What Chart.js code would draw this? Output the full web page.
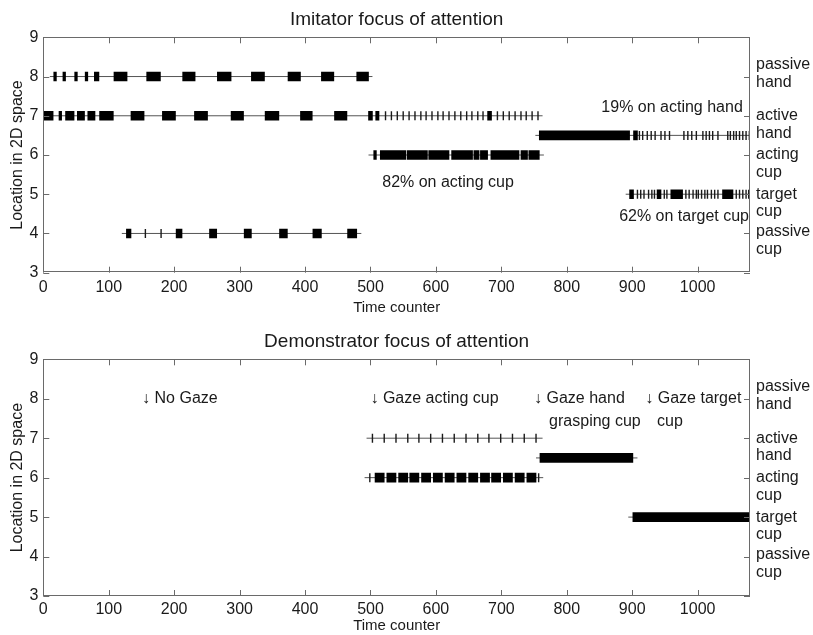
<!DOCTYPE html>
<html>
<head>
<meta charset="utf-8">
<script src="https://cdn.jsdelivr.net/npm/chart.js@4"></script>
<style>
  body { margin: 0; background: #fff; width: 813px; height: 635px; overflow: hidden; position: relative; }
  .box { position: absolute; left: 0; width: 813px; }
</style>
</head>
<body>
<div class="box" style="top:0;height:318px"><canvas id="imitator"></canvas></div>
<div class="box" style="top:322px;height:313px"><canvas id="demonstrator"></canvas></div>
<script>
// --- shared axis data ---
const timeMax = 1080;
const placeNames = [['passive', 'hand'], ['active', 'hand'], ['acting', 'cup'], ['target', 'cup'], ['passive', 'cup']];
const placeLevels = [8.3, 7.0, 6.0, 5.0, 4.04];

// --- imitator: [level, start, end] / [level, time] ---
const imLines = [[8, 10, 503], [7, 0, 763], [6, 497, 765], [6.5, 752, 1080], [5, 890, 1080], [4, 120, 486]];
const imBlocks = [
  [8, 16, 20], [8, 30, 34], [8, 48, 52], [8, 64, 68], [8, 78, 85],
  [8, 108, 128], [8, 158, 179], [8, 213, 232], [8, 266, 287], [8, 318, 338], [8, 374, 393], [8, 425, 444], [8, 479, 497],
  [7, 0, 15], [7, 24, 28], [7, 34, 47], [7, 52, 63], [7, 68, 79], [7, 86, 107], [7, 134, 154], [7, 182, 202],
  [7, 231, 251], [7, 287, 306], [7, 339, 360], [7, 393, 411], [7, 445, 464], [7, 497, 503], [7, 508, 513], [7, 679, 685],
  [6, 505, 509], [6, 515, 554], [6, 556, 587], [6, 589, 620], [6, 624, 656], [6, 658, 666], [6, 668, 679],
  [6, 684, 727], [6, 730, 740], [6, 742, 758],
  [6.5, 758, 896], [6.5, 902, 908],
  [5, 896, 902], [5, 938, 944], [5, 959, 977], [5, 1038, 1054],
  [4, 127, 134], [4, 203, 212], [4, 254, 265], [4, 307, 318], [4, 361, 373], [4, 412, 425], [4, 465, 479]
];
const imPlus7 = [523, 532, 541, 550, 559, 568, 577, 585, 594, 603, 611, 620, 629, 638, 647, 655, 664, 672, 694, 703, 712, 721, 730, 738, 747, 756];
const imPlus65 = [911, 916, 923, 929, 935, 944, 950, 957, 979, 985, 991, 998, 1008, 1013, 1018, 1023, 1031, 1046, 1050, 1055, 1059, 1064, 1069, 1074, 1079];
const imPlus5 = [908, 913, 918, 925, 930, 934, 949, 953, 982, 987, 993, 998, 1001, 1006, 1011, 1015, 1021, 1026, 1031, 1059, 1064, 1069, 1074, 1078];
const imPlus4 = [156, 180];
const imNotes = [
  { text: '19% on acting hand', x: 1069, y: 7.2, align: 'right' },
  { text: '82% on acting cup', x: 518, y: 5.29, align: 'left' },
  { text: '62% on target cup', x: 880, y: 4.43, align: 'left' }
];

// --- demonstrator ---
const deLines = [[7, 494, 763], [6, 491, 764], [6.5, 753, 908], [5, 894, 1080]];
const deBlocks = [
  [6, 507, 521], [6, 525, 539], [6, 543, 557], [6, 560, 574], [6, 578, 592], [6, 596, 610], [6, 614, 628],
  [6, 632, 646], [6, 650, 664], [6, 668, 682], [6, 685, 699], [6, 703, 717], [6, 721, 735], [6, 739, 753],
  [6.5, 759, 901], [5, 901, 1080]
];
const dePlus7 = [503, 521, 539, 557, 574, 592, 610, 628, 646, 664, 681, 699, 717, 735, 753];
const dePlus6 = [499, 757];
const deNotes = [
  { text: '\u2193 No Gaze', x: 151, y: 8, align: 'left' },
  { text: '\u2193 Gaze acting cup', x: 500, y: 8, align: 'left' },
  { text: '\u2193 Gaze hand', x: 750, y: 8, align: 'left' },
  { text: 'grasping cup', x: 773, y: 7.42, align: 'left' },
  { text: '\u2193 Gaze target', x: 920, y: 8, align: 'left' },
  { text: 'cup', x: 938, y: 7.42, align: 'left' }
];

Chart.defaults.font.family = '"Liberation Sans", Arial, sans-serif';
Chart.defaults.color = '#1a1a1a';
Chart.defaults.animation = false;

// box, inner ticks, title over the axes, notes and place names
const framePlugin = {
  id: 'frame',
  afterDatasetsDraw(chart, args, opts) {
    const { ctx, chartArea: a, scales: { x, y } } = chart;
    ctx.save();
    ctx.strokeStyle = '#6a6a6a';
    ctx.lineWidth = 1;
    ctx.strokeRect(Math.round(a.left) + .5, Math.round(a.top) + .5, Math.round(a.width) - 1, Math.round(a.height) - 1);
    ctx.beginPath();
    x.ticks.forEach(t => {
      const px = Math.round(x.getPixelForValue(t.value)) + .5;
      ctx.moveTo(px, a.bottom); ctx.lineTo(px, a.bottom - 6);
      ctx.moveTo(px, a.top); ctx.lineTo(px, a.top + 6);
    });
    y.ticks.forEach(t => {
      const py = Math.round(y.getPixelForValue(t.value)) + .5;
      ctx.moveTo(a.left, py); ctx.lineTo(a.left + 6, py);
      ctx.moveTo(a.right, py); ctx.lineTo(a.right - 6, py);
    });
    ctx.stroke();

    ctx.fillStyle = '#1a1a1a';
    ctx.textBaseline = 'middle';
    ctx.textAlign = 'center';
    ctx.font = '19px "Liberation Sans", Arial, sans-serif';
    ctx.fillText(opts.title, (a.left + a.right) / 2, a.top - 18);

    ctx.font = '16px "Liberation Sans", Arial, sans-serif';
    opts.notes.forEach(n => {
      ctx.textAlign = n.align;
      ctx.fillText(n.text, x.getPixelForValue(n.x), y.getPixelForValue(n.y));
    });
    ctx.textAlign = 'left';
    placeNames.forEach((lines, i) => {
      const py = y.getPixelForValue(placeLevels[i]);
      lines.forEach((s, j) => ctx.fillText(s, a.right + 6, py + j * 17.5));
    });
    ctx.restore();
  }
};

function buildDatasets(lines, blocks, plusSets) {
  const sets = [{
    type: 'bar', indexAxis: 'y', order: 0,
    data: blocks.map(([lv, s, e]) => ({ x: [s, e], y: lv })),
    backgroundColor: '#000', barThickness: 9, borderWidth: 0
  }];
  plusSets.forEach(([lv, times]) => sets.push({
    type: 'scatter', order: 1,
    data: times.map(t => ({ x: t, y: lv })),
    pointStyle: 'line', pointRotation: 90, pointRadius: 4.5,
    pointBorderColor: '#1a1a1a', pointBorderWidth: 1.4
  }));
  lines.forEach(([lv, s, e]) => sets.push({
    type: 'line', order: 2,
    data: [{ x: s, y: lv }, { x: e, y: lv }],
    borderColor: '#555', borderWidth: 1, pointRadius: 0
  }));
  return sets;
}

function makeChart(id, title, datasets, notes, xHeight, tickPad, labelPad) {
  return new Chart(document.getElementById(id), {
    type: 'scatter',
    data: { datasets },
    plugins: [framePlugin],
    options: {
      responsive: true,
      maintainAspectRatio: false,
      layout: { padding: { left: 0, right: 63, top: 37.3, bottom: 0 } },
      plugins: {
        legend: { display: false },
        tooltip: { enabled: false },
        title: { display: false },
        frame: { notes, title }
      },
      scales: {
        x: {
          type: 'linear', min: 0, max: timeMax, offset: false,
          ticks: { stepSize: 100, includeBounds: false, padding: tickPad, font: { size: 16 }, maxRotation: 0, autoSkip: false,
                   callback: v => String(v) },
          grid: { display: false, drawTicks: false, offset: false },
          border: { display: false },
          title: { display: true, text: 'Time counter', font: { size: 15 }, padding: { top: 0, bottom: labelPad } },
          afterFit: s => { s.height = xHeight; }
        },
        y: {
          type: 'linear', min: 3, max: 9, offset: false,
          ticks: { stepSize: 1, padding: 5, font: { size: 16 } },
          grid: { display: false, drawTicks: false, offset: false },
          border: { display: false },
          title: { display: true, text: 'Location in 2D space', font: { size: 16 }, padding: { top: 8, bottom: 0 } },
          afterFit: s => { s.width = 43.3; }
        }
      }
    }
  });
}

makeChart('imitator', 'Imitator focus of attention',
  buildDatasets(imLines, imBlocks, [[7, imPlus7], [6.5, imPlus65], [5, imPlus5], [4, imPlus4]]),
  imNotes, 45.3, 5.5, 1);

makeChart('demonstrator', 'Demonstrator focus of attention',
  buildDatasets(deLines, deBlocks, [[7, dePlus7], [6, dePlus6]]),
  deNotes, 39, 3.5, 0);
</script>
</body>
</html>
